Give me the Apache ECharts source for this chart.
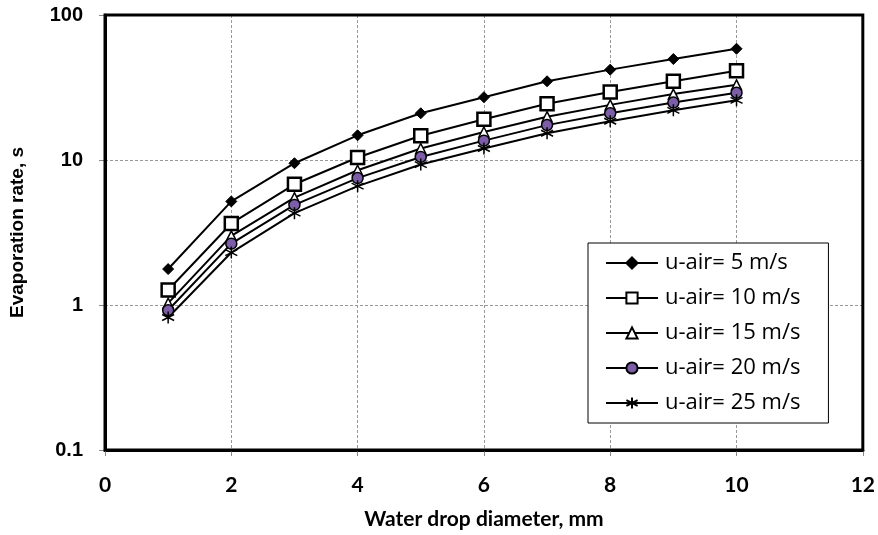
<!DOCTYPE html>
<html>
<head>
<meta charset="utf-8">
<script src="https://cdn.jsdelivr.net/npm/echarts@6/dist/echarts.min.js"></script>
<style>
  html, body { margin: 0; padding: 0; background: #fff; }
  #chart { width: 878px; height: 535px; }
</style>
</head>
<body>
<div id="chart"></div>
<script>
// drop diameter, mm
var diameters = [1, 2, 3, 4, 5, 6, 7, 8, 9, 10];
// evaporation rate, s
var u5 = [1.77, 5.18, 9.5, 14.8, 21.0, 27.1, 34.9, 42.0, 49.7, 58.5];
var u10 = [1.27, 3.65, 6.8, 10.4, 14.7, 19.1, 24.4, 29.4, 34.9, 41.3];
var u15 = [1.03, 3.0, 5.5, 8.5, 12.0, 15.6, 19.9, 24.0, 28.5, 33.0];
var u20 = [0.92, 2.65, 4.9, 7.5, 10.5, 13.6, 17.4, 21.0, 24.9, 29.1];
var u25 = [0.82, 2.3, 4.3, 6.6, 9.3, 12.0, 15.3, 18.5, 22.0, 25.8];
var names = ["u-air= 5 m/s", "u-air= 10 m/s", "u-air= 15 m/s", "u-air= 20 m/s", "u-air= 25 m/s"];

function pairs(ys) {
  return diameters.map(function (x, i) { return [x, ys[i]]; });
}

var star = "path://M0,-6L0,6M-5.2,-3L5.2,3M-5.2,3L5.2,-3";

function line(name, ys, symbol, size, fill, border) {
  return {
    name: name,
    type: "line",
    data: pairs(ys),
    symbol: symbol,
    symbolSize: size,
    showAllSymbol: true,
    lineStyle: { color: "#000", width: 2 },
    itemStyle: { color: fill, borderColor: "#000", borderWidth: border },
    emphasis: { disabled: true },
    z: 3
  };
}

var chart = echarts.init(document.getElementById("chart"));
var option = {
  animation: false,
  textStyle: { fontFamily: "Liberation Sans" },
  grid: {
    left: 105, right: 13, top: 15, bottom: 82,
    show: true, borderColor: "#000", borderWidth: 3, z: 5
  },
  legend: {
    orient: "vertical",
    left: 588, top: 243,
    data: names,
    itemWidth: 52, itemHeight: 14, itemGap: 13,
    padding: [9, 28, 9, 17],
    backgroundColor: "#fff",
    borderColor: "#000", borderWidth: 1,
    textStyle: { fontFamily: "Open Sans", fontSize: 22, color: "#000", padding: [0, 0, 0, 2] }
  },
  xAxis: {
    type: "value",
    min: 0, max: 12, interval: 2,
    name: "Water drop diameter, mm",
    nameLocation: "middle",
    nameGap: 59,
    nameTextStyle: { fontFamily: "Lato", fontWeight: "bold", fontSize: 21, color: "#000" },
    axisLine: { show: true, lineStyle: { color: "#000", width: 3 } },
    axisTick: { show: true, length: 6, lineStyle: { color: "#888" } },
    axisLabel: { margin: 25, fontFamily: "Lato", fontWeight: "bold", fontSize: 21, color: "#000" },
    splitLine: { show: true, lineStyle: { color: "#999", type: [3, 2], width: 1 } }
  },
  yAxis: {
    type: "log",
    logBase: 10,
    min: 0.1, max: 100,
    name: "Evaporation rate, s",
    nameLocation: "middle",
    nameRotate: 90,
    nameGap: 78,
    nameTextStyle: { fontWeight: "bold", fontSize: 19, color: "#000" },
    axisLine: { show: true, lineStyle: { color: "#000", width: 3 } },
    axisTick: { show: true, length: 6, lineStyle: { color: "#888" } },
    axisLabel: {
      margin: 22, fontWeight: "bold", fontSize: 20, color: "#000",
      formatter: function (v) { return v < 1 ? v.toFixed(1) : String(Math.round(v)); }
    },
    splitLine: { show: true, lineStyle: { color: "#999", type: [3, 2], width: 1 } }
  },
  series: [
    line(names[0], u5, "diamond", 11, "#000", 1),
    line(names[1], u10, "rect", 13, "#fff", 2.5),
    line(names[2], u15, "triangle", 10, "#fff", 1.5),
    line(names[3], u20, "circle", 11, "#7b5ea7", 1.5),
    line(names[4], u25, star, 12, "transparent", 1.5)
  ]
};
option && chart.setOption(option);
</script>
</body>
</html>
